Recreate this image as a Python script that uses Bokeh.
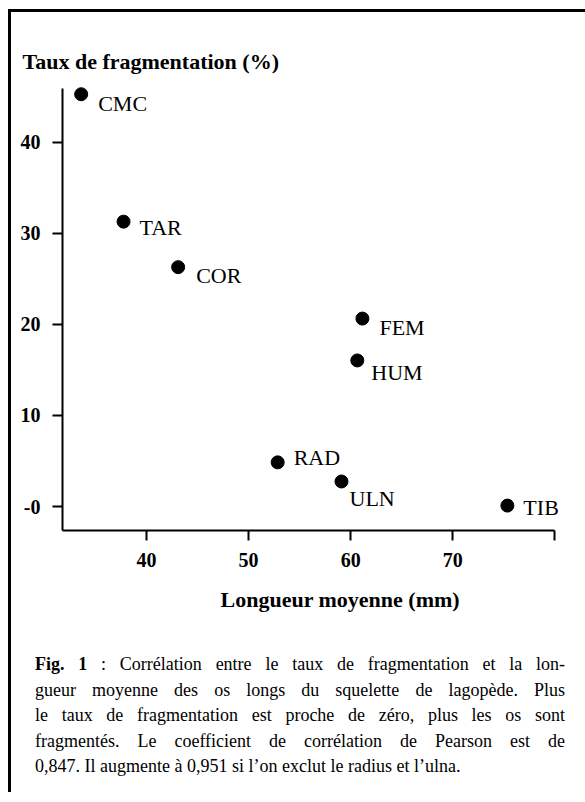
from bokeh.plotting import figure
from bokeh.models import ColumnDataSource, Div, FixedTicker, Title
from bokeh.layouts import column
from bokeh.embed import file_html
from bokeh.resources import INLINE
from bokeh.core.properties import value

# ---- data ----
bones = ["CMC", "TAR", "COR", "FEM", "HUM", "RAD", "ULN", "TIB"]
length_mm = [33.6, 37.75, 43.1, 61.15, 60.65, 52.85, 59.1, 75.35]
frag_pct = [45.3, 31.3, 26.3, 20.65, 16.05, 4.85, 2.75, 0.1]

x_ticks = [40, 50, 60, 70, 80]
x_tick_labels = ["40", "50", "60", "70", ""]
y_ticks = [0, 10, 20, 30, 40]
y_tick_labels = ["-0", "10", "20", "30", "40"]

y_title = "Taux de fragmentation (%)"
x_title = "Longueur moyenne (mm)"
caption_lines = [
    "<b>Fig. 1</b> : Corrélation entre le taux de fragmentation et la lon-",
    "gueur moyenne des os longs du squelette de lagopède. Plus",
    "le taux de fragmentation est proche de zéro, plus les os sont",
    "fragmentés. Le coefficient de corrélation de Pearson est de",
    "0,847. Il augmente à 0,951 si l’on exclut le radius et l’ulna.",
]

# label placement (screen px offsets from each point)
label_dx = [17, 16, 18, 17, 14, 16, 8, 16]
label_dy = [9, 6, 8, 9, 12, -5, 17, 2]

FONT = "Liberation Serif"

source = ColumnDataSource(dict(x=length_mm, y=frag_pct, name=bones,
                               dx=label_dx, dy=label_dy))

p = figure(width=566, height=635,
           x_range=(31.77, 82.22), y_range=(-2.637, 46.81),
           output_backend="svg", toolbar_location=None,
           min_border_left=51, min_border_right=0,
           min_border_top=68, min_border_bottom=117)
p.outline_line_color = None
p.grid.visible = False
p.background_fill_color = "white"
p.border_fill_color = "white"

p.scatter("x", "y", source=source, size=13, color="black")
p.text("x", "y", text="name", source=source, x_offset="dx", y_offset="dy",
       text_font=value(FONT), text_font_size="22px", text_color="black",
       text_baseline="alphabetic", text_align="left")

for ax in (p.xaxis, p.yaxis):
    ax.axis_line_width = 2
    ax.axis_line_color = "black"
    ax.major_tick_line_width = 2
    ax.major_tick_line_color = "black"
    ax.major_tick_out = 10
    ax.major_tick_in = 0
    ax.minor_tick_line_color = None
    ax.major_label_text_font = FONT
    ax.major_label_text_font_style = "bold"
    ax.major_label_text_font_size = "20px"
    ax.major_label_text_color = "black"

p.xaxis.ticker = FixedTicker(ticks=x_ticks)
p.xaxis.major_label_overrides = dict(zip(x_ticks, x_tick_labels))
p.xaxis.bounds = (31.77, 80)
p.xaxis.major_label_standoff = 12

p.yaxis.ticker = FixedTicker(ticks=y_ticks)
p.yaxis.major_label_overrides = dict(zip(y_ticks, y_tick_labels))
p.yaxis.bounds = (-2.637, 45.9)
p.yaxis.major_label_standoff = 12

p.title.text = y_title
p.title.align = "left"
p.title.offset = -40
p.title.standoff = 13
p.title.text_font = FONT
p.title.text_font_style = "bold"
p.title.text_font_size = "22px"
p.title.text_color = "black"

p.add_layout(Title(text=x_title, align="left", offset=158, standoff=30,
                   text_font=FONT, text_font_style="bold",
                   text_font_size="22px", text_color="black"), "below")

last = len(caption_lines) - 1
inner = "".join(
    '<div style="text-align: justify; text-align-last: %s; white-space: nowrap;">%s</div>'
    % ("left" if i == last else "justify", line)
    for i, line in enumerate(caption_lines))
html = ('<div style="font-family: \'Liberation Serif\'; font-size: 18px; '
        'line-height: 25.5px; color: black; padding-left: 24px; '
        'padding-top: 5px; width: 554px;">'
        + inner + '</div>')
cap = Div(text=html, width=566, height=145, margin=0)

top_bar = Div(text="", width=574, height=3, margin=0,
              styles={"background-color": "black"})

layout = column(top_bar, p, cap, styles={"border-left": "3px solid black",
                                         "margin-left": "8px",
                                         "margin-top": "9px"})

open("out.html", "w").write(file_html(layout, INLINE))
